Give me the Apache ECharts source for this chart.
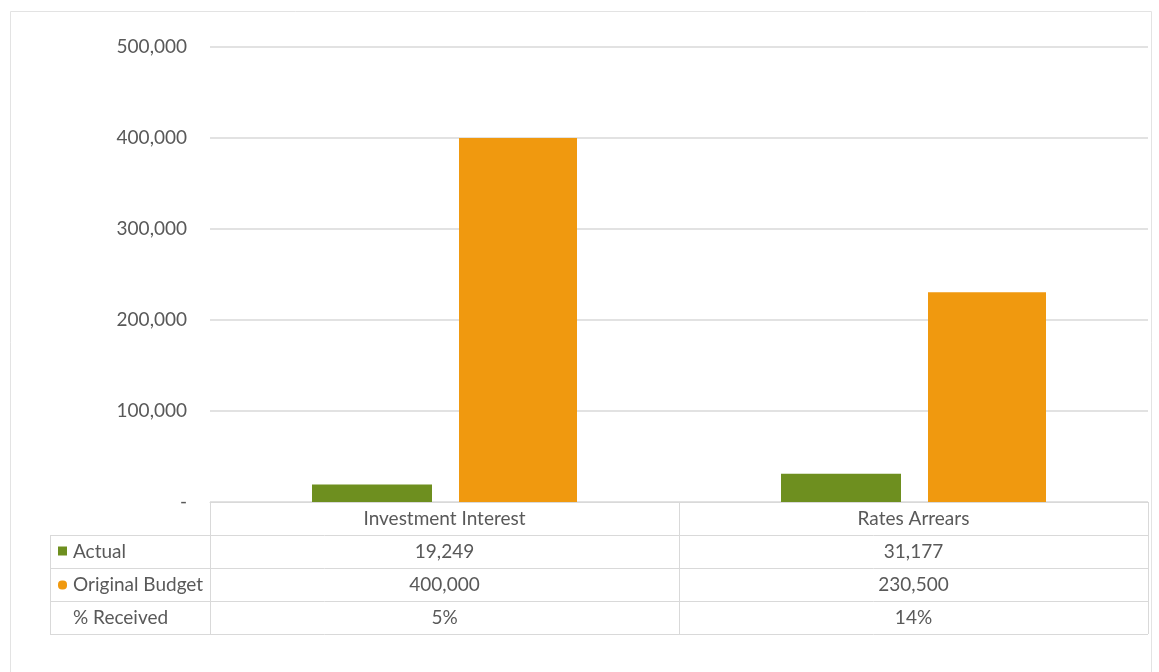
<!DOCTYPE html>
<html>
<head>
<meta charset="utf-8">
<script src="https://cdn.jsdelivr.net/npm/echarts@6/dist/echarts.min.js"></script>
<style>
html,body{margin:0;padding:0;background:#fff;}
#main{width:1159px;height:672px;}
</style>
</head>
<body>
<div id="main"></div>
<script>
var categories = ["Investment Interest", "Rates Arrears"];
var actual = [19249, 31177];
var budget = [400000, 230500];
var received = ["5%", "14%"];
var seriesNames = ["Actual", "Original Budget", "% Received"];
var yTicks = [0, 100000, 200000, 300000, 400000, 500000];

var W = 1159, H = 672;
var gLeft = 210, gRight = 1148, gTop = 47, gBottom = 502;
var rowH = 33, tableLeft = 50;
var FONT = "Lato";
var TXT = "#595959";
var LINE = "#d9d9d9";
var GREEN = "#6e8f1f";
var ORANGE = "#f0990f";

function fmt(v){ return v === 0 ? "-" : v.toLocaleString("en-US"); }

var chart = echarts.init(document.getElementById("main"), null, {renderer:"canvas"});

var graphics = [];
graphics.push({type:"rect", shape:{x:10.5, y:11.5, width:1141, height:700}, style:{fill:null, stroke:"#e3e3e3", lineWidth:1}, silent:true});

var colW = (gRight - gLeft) / categories.length;
function hline(y, x1, x2){ graphics.push({type:"line", shape:{x1:x1, y1:y+0.5, x2:x2, y2:y+0.5}, style:{stroke:LINE, lineWidth:1}, silent:true}); }
function vline(x, y1, y2){ graphics.push({type:"line", shape:{x1:x+0.5, y1:y1, x2:x+0.5, y2:y2}, style:{stroke:LINE, lineWidth:1}, silent:true}); }
function txt(t, x, y, align){ graphics.push({type:"text", x:x, y:y, style:{text:t, fill:TXT, font:"19px " + FONT, textAlign:align||"center", textVerticalAlign:"middle"}, silent:true}); }

var nRows = 1 + seriesNames.length;
var tBottom = gBottom + rowH * nRows;
for (var r = 1; r <= nRows; r++) hline(gBottom + rowH * r, tableLeft, gRight);
vline(tableLeft, gBottom + rowH, tBottom);
for (var c = 0; c <= categories.length; c++) vline(gLeft + colW * c, gBottom, tBottom);

var rowsData = [actual.map(fmt), budget.map(fmt), received];
categories.forEach(function(cat, i){
  var cx = gLeft + colW * (i + 0.5);
  txt(cat, cx, gBottom + rowH * 0.5);
  rowsData.forEach(function(arr, r){ txt(arr[i], cx, gBottom + rowH * (r + 1.5)); });
});
seriesNames.forEach(function(n, r){
  txt(n, 73, gBottom + rowH * (r + 1.5), "left");
});
graphics.push({type:"rect", shape:{x:58, y:gBottom + rowH*1.5 - 5, width:9, height:9}, style:{fill:GREEN}, silent:true});
graphics.push({type:"rect", shape:{x:58, y:gBottom + rowH*2.5 - 4, width:9, height:9, r:4}, style:{fill:ORANGE}, silent:true});

chart.setOption({
  animation:false,
  backgroundColor:"#fff",
  grid:{left:gLeft, right:W - gRight, top:gTop, bottom:H - gBottom, containLabel:false},
  xAxis:{type:"category", data:categories, axisLine:{show:true, lineStyle:{color:LINE}}, axisTick:{show:false}, axisLabel:{show:false}},
  yAxis:{type:"value", min:0, max:500000, interval:100000,
    axisLine:{show:false}, axisTick:{show:false},
    axisLabel:{formatter:fmt, color:TXT, fontFamily:FONT, fontSize:19, margin:23},
    splitLine:{lineStyle:{color:LINE, width:1.5}}},
  series:[
    {name:seriesNames[0], type:"bar", data:actual, barWidth:120, barGap:"22.5%", itemStyle:{color:GREEN}},
    {name:seriesNames[1], type:"bar", data:budget, barWidth:118, itemStyle:{color:ORANGE}}
  ],
  graphic:graphics
});
</script>
</body>
</html>
